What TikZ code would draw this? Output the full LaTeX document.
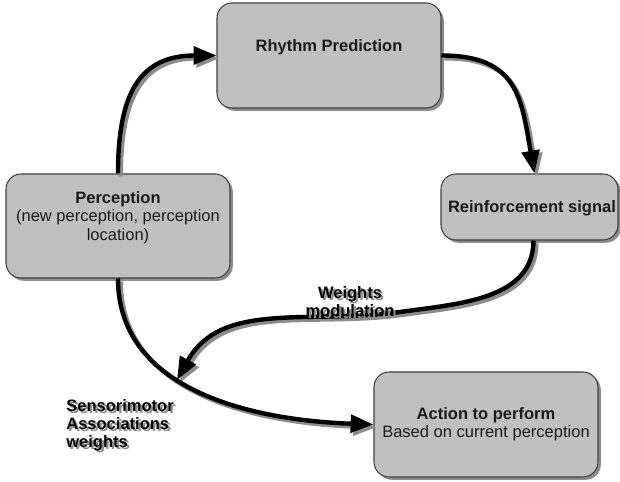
\documentclass[tikz,border=0pt]{standalone}
\usepackage{fontspec}
\setmainfont{Liberation Sans}
\usetikzlibrary{arrows.meta, positioning, calc, shadows}

\definecolor{boxgray}{HTML}{C0C0C0}
\definecolor{edgegray}{HTML}{404040}
\definecolor{shadegray}{HTML}{8C8C8C}

\tikzset{
  stage/.style={draw=edgegray, line width=0.6pt, fill=boxgray, rounded corners=0.3cm,
    drop shadow={shadow xshift=1.6pt, shadow yshift=-1.6pt, fill=shadegray, opacity=1}},
  flow/.style={line width=2.5pt, -{Triangle[length=13pt,width=10pt]}},
  boxtext/.style={align=center, font=\fontsize{9.4}{10.5}\selectfont, inner sep=0pt, text=black!90},
  lbl/.style={align=center, font=\fontsize{9.4}{10.2}\selectfont\bfseries, inner sep=0pt},
}

\begin{document}
\begin{tikzpicture}[x=0.02cm, y=0.02cm, line join=round]
    \useasboundingbox (0,0) rectangle (620,482);

    % the four stages
    \node[stage, minimum width=4.48cm, minimum height=2.1cm] (rhythm) at (329,426.5) {};
    \node[stage, minimum width=4.48cm, minimum height=2.08cm] (perc) at (118,256) {};
    \node[stage, minimum width=3.54cm, minimum height=1.32cm] (reinf) at (529.5,275) {};
    \node[stage, minimum width=4.48cm, minimum height=2.1cm] (action) at (486,57.5) {};

    \node[boxtext] (rhythmtxt) at (329,435) {\textbf{Rhythm Prediction}};
    \node[boxtext] (perctxt) at (118,264.5) {\textbf{Perception}\\(new perception, perception\\location)};
    \node[boxtext] (reinftxt) at (532,274) {\textbf{Reinforcement signal}};
    \node[boxtext] (actiontxt) at (486,58) {\textbf{Action to perform}\\Based on current perception};

    % connectors, shadow first
    \coordinate (wbend) at (400,170);
    \coordinate (swtip) at (177,102);
    \foreach \col/\off in {shadegray/1.6pt, black/0pt} {
      \begin{scope}[transform canvas={shift={(\off,-\off)}}, draw=\col, fill=\col]
        \draw[flow] (perc.north) to[out=90, in=180, looseness=1.3] (rhythm.west);
        \draw[flow] (rhythm.east) to[out=0, in=100, looseness=1.3] ($(reinf.north)+(5,0)$);
        \draw[flow] ($(reinf.south)+(4,0)$) to[out=-90, in=8] (wbend) to[out=188, in=61] (swtip);
        \draw[flow] (perc.south) to[out=-90, in=178] (action.west);
      \end{scope}
    }

    % labels with shadow
    \node[lbl, text=shadegray, xshift=1.2pt, yshift=-1.2pt] (wmodsh) at (350,180.5) {Weights\\modulation};
    \node[lbl] (wmod) at (350,180.5) {Weights\\modulation};
    \node[lbl, align=left, anchor=west, text=shadegray, xshift=1.2pt, yshift=-1.2pt] (smwsh) at (66,57) {Sensorimotor\\Associations\\weights};
    \node[lbl, align=left, anchor=west] (smw) at (66,57) {Sensorimotor\\Associations\\weights};
\end{tikzpicture}
\end{document}
